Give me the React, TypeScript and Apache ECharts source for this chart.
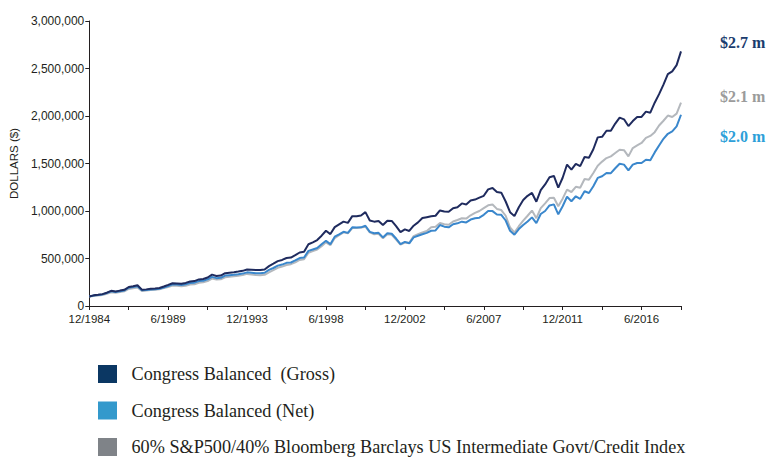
import React, { useEffect, useRef } from "react";
import * as echarts from "echarts";

// Quarter-end dates from 12/1984 to 9/2018 (axis categories)
const quarterLabels: string[] = (() => {
  const out: string[] = [];
  let m = 12;
  let y = 1984;
  for (let i = 0; i < 136; i++) {
    out.push(`${m}/${y}`);
    m += 3;
    if (m > 12) {
      m -= 12;
      y += 1;
    }
  }
  return out;
})();

const yTicks = [0, 500000, 1000000, 1500000, 2000000, 2500000, 3000000];

// Values in thousands of dollars (growth of $100,000)
const grossK = [
  100, 112, 118, 125, 140, 160, 152, 162, 170, 200, 208, 218, 172, 175, 182, 185,
  190, 205, 222, 240, 238, 235, 243, 258, 262, 280, 285, 300, 330, 315, 320, 345,
  350, 355, 362, 370, 385, 382, 378, 380, 385, 420, 445, 472, 485, 505, 510, 535,
  563, 570, 650, 670, 694, 740, 792, 757, 830, 860, 888, 875, 946, 945, 953, 988,
  900, 888, 895, 852, 898, 895, 840, 777, 806, 790, 845, 880, 926, 935, 944, 950,
  1006, 995, 992, 1030, 1040, 1080, 1069, 1110, 1120, 1140, 1160, 1228, 1242, 1200, 1193, 1100,
  988, 946, 1040, 1115, 1160, 1190, 1098, 1220, 1280, 1355, 1369, 1246, 1350, 1489, 1436, 1497,
  1473, 1568, 1561, 1650, 1775, 1781, 1845, 1845, 1920, 1983, 1965, 1894, 1947, 1990, 1990, 2046,
  2035, 2140, 2230, 2330, 2440, 2470, 2535, 2680,
];

const netK = [
  100, 110, 116, 122, 137, 155, 148, 156, 164, 192, 200, 208, 165, 168, 174, 177,
  182, 195, 210, 227, 225, 222, 229, 242, 246, 262, 266, 280, 307, 293, 297, 320,
  324, 328, 334, 341, 354, 350, 345, 346, 350, 380, 400, 425, 436, 454, 458, 480,
  505, 510, 580, 595, 610, 650, 686, 651, 730, 755, 781, 770, 828, 826, 828, 845,
  780, 765, 770, 722, 765, 760, 710, 651, 675, 660, 722, 740, 755, 770, 792, 795,
  852, 835, 828, 860, 870, 888, 880, 910, 924, 930, 960, 999, 999, 963, 960, 900,
  792, 750, 810, 852, 890, 933, 873, 968, 1000, 1058, 1070, 965, 1050, 1150, 1103, 1155,
  1128, 1208, 1190, 1260, 1348, 1366, 1400, 1398, 1450, 1498, 1488, 1428, 1488, 1505, 1505, 1540,
  1535, 1617, 1690, 1760, 1813, 1838, 1890, 2013,
];

const indexK = [
  100, 105, 110, 116, 128, 145, 140, 147, 155, 180, 188, 195, 158, 162, 168, 172,
  176, 188, 200, 215, 212, 208, 212, 225, 228, 245, 250, 262, 288, 278, 282, 302,
  308, 312, 318, 325, 338, 332, 325, 324, 328, 355, 378, 402, 415, 432, 440, 460,
  485, 492, 560, 578, 595, 630, 670, 640, 715, 745, 775, 765, 820, 820, 825, 835,
  775, 755, 760, 712, 755, 750, 700, 645, 668, 665, 735, 755, 774, 790, 828, 835,
  873, 860, 855, 890, 905, 924, 920, 955, 980, 1000, 1030, 1060, 1068, 1022, 1010, 950,
  826, 774, 840, 898, 950, 1004, 924, 1030, 1080, 1136, 1140, 1050, 1130, 1225, 1200, 1255,
  1245, 1337, 1330, 1400, 1477, 1520, 1557, 1575, 1610, 1645, 1640, 1575, 1663, 1690, 1716, 1769,
  1790, 1830, 1900, 1950, 2005, 1990, 2025, 2140,
];

const seriesNames = [
  "Congress Balanced  (Gross)",
  "Congress Balanced (Net)",
  "60% S&P500/40% Bloomberg Barclays US Intermediate Govt/Credit Index",
];
const endLabels = ["$2.7 m", "$2.1 m", "$2.0 m"];

const LINE_GROSS = "#1f2b5e";
const LINE_NET = "#3a87cc";
const LINE_INDEX = "#b4b8bd";
const LEG_GROSS = "#0b3763";
const LEG_NET = "#3399cc";
const LEG_INDEX = "#7f8388";

export default function App() {
  const ref = useRef<HTMLDivElement>(null);

  useEffect(() => {
    if (!ref.current) return;
    const chart = echarts.init(ref.current, undefined, { renderer: "svg" });
    const toDollars = (arr: number[]) => arr.map((v) => v * 1000);
    const sans = '"Liberation Sans", Arial, sans-serif';
    const serif = '"Liberation Serif", "Times New Roman", serif';

    const legendColors = [LEG_GROSS, LEG_NET, LEG_INDEX];
    const legendTops = [365, 401.5, 438];
    const legendGraphics: any[] = [];
    seriesNames.forEach((name, i) => {
      legendGraphics.push({
        type: "rect",
        shape: { x: 98, y: legendTops[i], width: 19, height: 18 },
        style: { fill: legendColors[i] },
      });
      legendGraphics.push({
        type: "text",
        x: 131.5,
        y: legendTops[i] + 9,
        style: {
          text: name,
          fill: "#231f20",
          font: `18.2px ${serif}`,
          verticalAlign: "middle",
          align: "left",
        },
      });
    });

    const endLabelColors = ["#1a3c6e", "#9b9b9b", "#2e9fd9"];
    const endLabelY = [42, 96.5, 136];
    const endGraphics = endLabels.map((t, i) => ({
      type: "text",
      x: 720,
      y: endLabelY[i],
      style: {
        text: t,
        fill: endLabelColors[i],
        font: `bold 16px ${serif}`,
        verticalAlign: "middle",
        align: "left",
      },
    }));

    chart.setOption({
      animation: false,
      backgroundColor: "#ffffff",
      grid: { left: 81, right: 88, top: 21, bottom: 154, containLabel: false },
      xAxis: {
        type: "category",
        data: quarterLabels,
        boundaryGap: false,
        axisLine: { show: true, lineStyle: { color: "#231f20", width: 1 } },
        axisTick: { show: true, interval: 8, length: 4, lineStyle: { color: "#231f20" } },
        axisLabel: {
          interval: 17,
          margin: 6.5,
          color: "#231f20",
          fontFamily: sans,
          fontSize: 11.5,
        },
        splitLine: { show: false },
      },
      yAxis: {
        type: "value",
        min: yTicks[0],
        max: yTicks[yTicks.length - 1],
        interval: 500000,
        name: "DOLLARS ($)",
        nameLocation: "middle",
        nameRotate: 90,
        nameGap: 56,
        nameTextStyle: { color: "#231f20", fontFamily: sans, fontSize: 11.5 },
        axisLine: { show: true, lineStyle: { color: "#231f20", width: 1 } },
        axisTick: { show: true, length: 4, lineStyle: { color: "#231f20" } },
        axisLabel: {
          margin: 5,
          color: "#231f20",
          fontFamily: sans,
          fontSize: 12,
          formatter: (v: number) => v.toLocaleString("en-US"),
        },
        splitLine: { show: false },
      },
      series: [
        {
          name: seriesNames[2],
          type: "line",
          data: toDollars(indexK),
          showSymbol: false,
          symbol: "none",
          lineStyle: { color: LINE_INDEX, width: 2 },
          itemStyle: { color: LEG_INDEX },
          z: 2,
        },
        {
          name: seriesNames[1],
          type: "line",
          data: toDollars(netK),
          showSymbol: false,
          symbol: "none",
          lineStyle: { color: LINE_NET, width: 2 },
          itemStyle: { color: LEG_NET },
          z: 3,
        },
        {
          name: seriesNames[0],
          type: "line",
          data: toDollars(grossK),
          showSymbol: false,
          symbol: "none",
          lineStyle: { color: LINE_GROSS, width: 2 },
          itemStyle: { color: LEG_GROSS },
          z: 4,
        },
      ],
      graphic: [...legendGraphics, ...endGraphics],
    });

    return () => {
      chart.dispose();
    };
  }, []);

  return (
    <div
      ref={ref}
      style={{ position: "absolute", left: 0, top: 0, width: 769, height: 460, background: "#fff" }}
    />
  );
}
